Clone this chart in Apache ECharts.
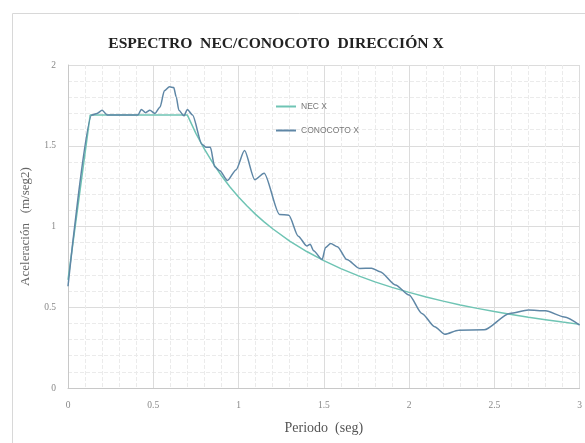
<!DOCTYPE html>
<html>
<head>
<meta charset="utf-8">
<script src="https://cdn.jsdelivr.net/npm/echarts@6/dist/echarts.min.js"></script>
<style>
  html, body { margin: 0; padding: 0; background: #fff; }
  #chart { width: 585px; height: 443px; }
</style>
</head>
<body>
<div id="chart"></div>
<script>
// Design spectrum (NEC) — period (s), acceleration (m/seg2)
const necPeriods = [0, 0.13, 0.70, 0.75, 0.80, 0.85, 0.90, 0.95, 1.0, 1.05, 1.1, 1.15, 1.2, 1.3, 1.4, 1.5,
  1.6, 1.7, 1.8, 1.9, 2.0, 2.1, 2.2, 2.3, 2.4, 2.5, 2.6, 2.7, 2.8, 2.9, 3.0];
const necValues = [0.67, 1.69, 1.69, 1.577, 1.479, 1.392, 1.314, 1.245, 1.183, 1.127, 1.075, 1.029, 0.986,
  0.910, 0.845, 0.789, 0.739, 0.696, 0.657, 0.623, 0.592, 0.563, 0.538, 0.514, 0.493, 0.473, 0.455,
  0.438, 0.423, 0.408, 0.394];

// Recorded spectrum (Conocoto)
const conPeriods = [0, 0.14, 0.17, 0.20, 0.23, 0.41, 0.43, 0.455, 0.48, 0.51, 0.54, 0.565, 0.595,
  0.62, 0.635, 0.65, 0.68, 0.70, 0.73, 0.785, 0.81, 0.835, 0.86, 0.89, 0.935, 0.985, 1.035,
  1.095, 1.15, 1.24, 1.295, 1.35, 1.40, 1.42, 1.44, 1.49, 1.51, 1.54, 1.58, 1.635, 1.71, 1.78,
  1.83, 1.92, 2.0, 2.075, 2.15, 2.21, 2.29, 2.44, 2.59, 2.70, 2.80, 2.91, 3.0];
const conValues = [0.63, 1.69, 1.70, 1.72, 1.69, 1.69, 1.725, 1.705, 1.72, 1.70, 1.74, 1.84, 1.865,
  1.86, 1.80, 1.72, 1.685, 1.725, 1.69, 1.51, 1.49, 1.49, 1.37, 1.345, 1.285, 1.35, 1.47,
  1.29, 1.33, 1.075, 1.07, 0.94, 0.88, 0.89, 0.85, 0.795, 0.87, 0.895, 0.875, 0.795, 0.74, 0.742,
  0.72, 0.638, 0.576, 0.462, 0.38, 0.333, 0.358, 0.36, 0.462, 0.483, 0.478, 0.44, 0.39];

const seriesNames = ['NEC X', 'CONOCOTO X'];
const xTicks = { min: 0, max: 3, step: 0.5 };
const yTicks = { min: 0, max: 2, step: 0.5 };

const pair = (xs, ys) => xs.map((x, i) => [x, ys[i]]);

const chart = echarts.init(document.getElementById('chart'), null, { renderer: 'canvas' });
const serif = "'Liberation Serif', 'DejaVu Serif', serif";

chart.setOption({
  backgroundColor: '#ffffff',
  animation: false,
  title: {
    text: 'ESPECTRO  NEC/CONOCOTO  DIRECCIÓN X',
    left: 271,
    top: 31,
    textAlign: 'center',
    textStyle: { fontFamily: serif, fontWeight: 'bold', fontSize: 15.6, color: '#222' }
  },
  graphic: [{
    type: 'rect',
    shape: { x: 12.5, y: 13.5, width: 620, height: 460 },
    style: { fill: 'none', stroke: '#d8d8d8', lineWidth: 1 },
    silent: true, z: -1
  }],
  legend: {
    orient: 'vertical',
    left: 271,
    top: 97,
    itemGap: 15,
    itemWidth: 20,
    itemHeight: 2,
    icon: 'rect',
    textStyle: { fontSize: 8.5, color: '#777', fontFamily: "'Liberation Sans', sans-serif" },
    data: seriesNames
  },
  grid: { left: 68, top: 65, width: 523, height: 323, containLabel: false },
  xAxis: {
    type: 'value',
    min: xTicks.min, max: xTicks.max, interval: xTicks.step,
    name: 'Periodo  (seg)',
    nameLocation: 'middle',
    nameGap: 33,
    nameTextStyle: { fontFamily: serif, fontSize: 14, color: '#555' },
    axisLine: { show: true, lineStyle: { color: '#c8c8c8' } },
    axisTick: { show: false },
    axisLabel: { fontFamily: serif, fontSize: 9.5, color: '#888', margin: 12,
      formatter: v => String(v) },
    splitLine: { show: true, lineStyle: { color: '#dcdcdc', width: 1 } },
    minorTick: { show: false, splitNumber: 5 },
    minorSplitLine: { show: true, lineStyle: { color: '#ebebeb', type: 'dashed', width: 1 } }
  },
  yAxis: {
    type: 'value',
    min: yTicks.min, max: yTicks.max, interval: yTicks.step,
    name: 'Aceleración   (m/seg2)',
    nameLocation: 'middle',
    nameGap: 36,
    nameRotate: 90,
    nameTextStyle: { fontFamily: serif, fontSize: 13, color: '#666' },
    axisLine: { show: true, lineStyle: { color: '#c8c8c8' } },
    axisTick: { show: false },
    axisLabel: { fontFamily: serif, fontSize: 9.5, color: '#888', margin: 12 },
    splitLine: { show: true, lineStyle: { color: '#dcdcdc', width: 1 } },
    minorTick: { show: false, splitNumber: 5 },
    minorSplitLine: { show: true, lineStyle: { color: '#ebebeb', type: 'dashed', width: 1 } }
  },
  series: [
    {
      name: seriesNames[0],
      type: 'line',
      data: pair(necPeriods, necValues),
      showSymbol: false,
      smooth: false,
      color: '#6fc4b4',
      lineStyle: { width: 1.5, color: '#6fc4b4' },
      z: 2
    },
    {
      name: seriesNames[1],
      type: 'line',
      data: pair(conPeriods, conValues),
      showSymbol: false,
      smooth: 0.25,
      smoothMonotone: 'x',
      color: '#5f87a6',
      lineStyle: { width: 1.5, color: '#5f87a6' },
      z: 3
    }
  ]
});
</script>
</body>
</html>
